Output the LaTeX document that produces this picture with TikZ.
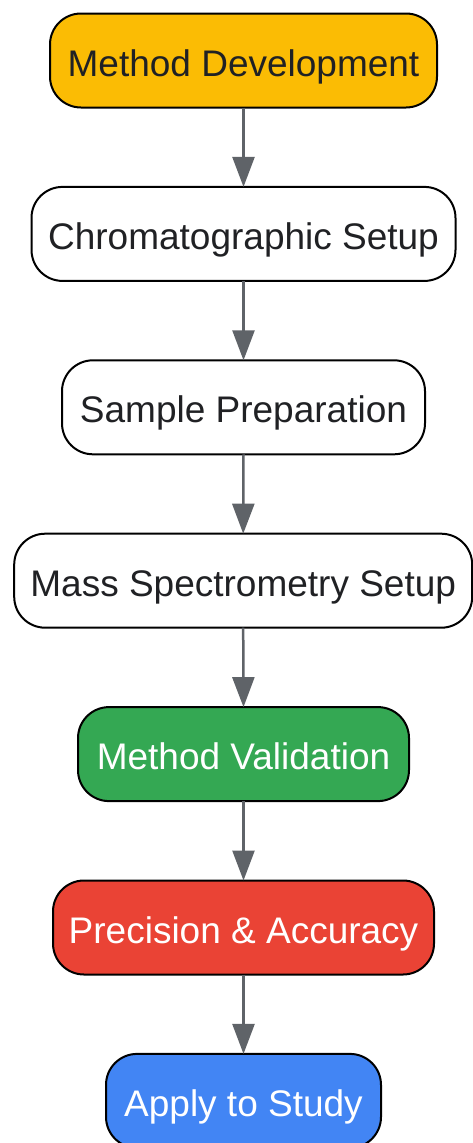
\documentclass[tikz,border=0pt]{standalone}
\usepackage{fontspec}
\setmainfont{Liberation Sans}
\usetikzlibrary{arrows.meta}
\definecolor{cyellow}{HTML}{FBBC04}
\definecolor{cgreen}{HTML}{34A853}
\definecolor{cred}{HTML}{EA4335}
\definecolor{cblue}{HTML}{4285F4}
\definecolor{cgray}{HTML}{5F6368}
\definecolor{ctext}{HTML}{202124}
\tikzset{
  box/.style={draw=black, line width=2pt, rounded corners=31pt, minimum height=94pt,
    text height=31pt, text depth=0pt,
    inner sep=0pt, outer sep=0pt, align=center, font=\fontsize{37}{44}\selectfont, text=ctext},
  conn/.style={draw=cgray, line width=2.5pt, -{Triangle[length=30pt,width=22pt]}}
}
\begin{document}
\begin{tikzpicture}
\useasboundingbox (0pt,0pt) rectangle (473pt,-1143pt);
\node[box, fill=cyellow, minimum width=387pt] (n1) at (243.5pt,-60.5pt) {Method Development};
\node[box, fill=white, minimum width=424pt] (n2) at (243.5pt,-233.9pt) {Chromatographic Setup};
\node[box, fill=white, minimum width=363pt] (n3) at (243.5pt,-407.3pt) {Sample Preparation};
\node[box, fill=white, minimum width=458pt] (n4) at (243.2pt,-580.7pt) {Mass Spectrometry Setup};
\node[box, fill=cgreen, text=white, minimum width=331pt] (n5) at (243.5pt,-754.1pt) {Method Validation};
\node[box, fill=cred, text=white, minimum width=381pt] (n6) at (243.5pt,-927.5pt) {Precision \& Accuracy};
\node[box, fill=cblue, text=white, minimum width=275pt] (n7) at (243.5pt,-1100.9pt) {Apply to Study};
\draw[conn] (n1.south) -- (n2.north);
\draw[conn] (n2.south) -- (n3.north);
\draw[conn] (n3.south) -- (n4.north);
\draw[conn] (n4.south) -- (n5.north);
\draw[conn] (n5.south) -- (n6.north);
\draw[conn] (n6.south) -- (n7.north);
\end{tikzpicture}
\end{document}
